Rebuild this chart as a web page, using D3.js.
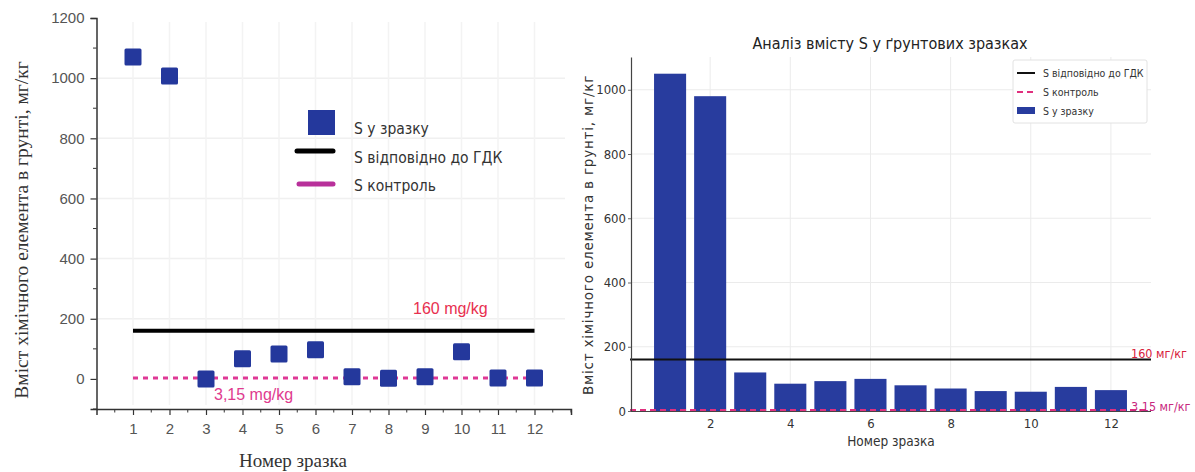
<!DOCTYPE html>
<html><head><meta charset="utf-8">
<script src="https://cdn.jsdelivr.net/npm/d3@7"></script>
<style>body{margin:0;background:#fff}svg{display:block}</style>
</head><body>
<svg id="c" width="1195" height="472"></svg>
<script>
// ---- data ----
const samples = [1,2,3,4,5,6,7,8,9,10,11,12];
const scatterValues = [1070,1007,0,67,83,97,7,2,7,90,3,3];
const barValues = [1050,980,120,85,93,100,80,70,62,60,75,65];
const gdkValue = 160;
const controlValue = 3.15;
const leftYTicks = [0,200,400,600,800,1000,1200];
const leftYMinor = [-100,100,300,500,700,900,1100];
const leftXTicks = [1,2,3,4,5,6,7,8,9,10,11,12];
const leftXMinor = [0.5,1.5,2.5,3.5,4.5,5.5,6.5,7.5,8.5,9.5,10.5,11.5,12.5,13];
const rightYTicks = [0,200,400,600,800,1000];
const rightXTicks = [2,4,6,8,10,12];
const yLabel = "Вміст хімічного елемента в грунті, мг/кг";
const xLabel = "Номер зразка";
const title = "Аналіз вмісту S у ґрунтових зразках";
const legendLeft = ["S у зразку","S відповідно до ГДК","S контроль"];
const legendRight = ["S відповідно до ГДК","S контроль","S у зразку"];

const svg = d3.select("#c");
const BLUE = "#24389c";
const PINK = "#df3896";
const COND = "'DejaVu Sans Condensed','DejaVu Sans',sans-serif";
const fmt = d3.format("d");

// ================= LEFT PANEL =================
const L = svg.append("g");
const xL = d3.scaleLinear().domain([0,13]).range([96.5,571]);
const yL = d3.scaleLinear().domain([-100,1200]).range([409,18]);

// grid
L.append("g").selectAll("line").data(leftYTicks.filter(d=>d>0&&d<1200)).join("line")
  .attr("x1",97).attr("x2",565).attr("y1",d=>yL(d)).attr("y2",d=>yL(d))
  .attr("stroke","#f0f0f0").attr("stroke-width",1.5);
L.append("g").selectAll("line").data(leftXTicks).join("line")
  .attr("x1",d=>xL(d)).attr("x2",d=>xL(d)).attr("y1",22).attr("y2",405)
  .attr("stroke","#f3f3f3").attr("stroke-width",1.5);

// axes
const axL = L.append("g").attr("transform",`translate(${xL(0)},0)`)
  .call(d3.axisLeft(yL).tickValues(leftYTicks).tickFormat(fmt).tickSize(6).tickPadding(6));
axL.append("g").selectAll("line").data(leftYMinor).join("line")
  .attr("x1",0).attr("x2",-3.5).attr("y1",d=>yL(d)).attr("y2",d=>yL(d)).attr("stroke","#333");
const axB = L.append("g").attr("transform",`translate(0,${yL(-100)})`)
  .call(d3.axisBottom(xL).tickValues(leftXTicks).tickFormat(fmt).tickSize(6).tickPadding(8));
axB.append("g").selectAll("line").data(leftXMinor).join("line")
  .attr("x1",d=>xL(d)).attr("x2",d=>xL(d)).attr("y1",0).attr("y2",3.5).attr("stroke","#333");
[axL,axB].forEach(a=>{
  a.select(".domain").attr("stroke","#333").attr("stroke-width",1.5);
  a.selectAll(".tick line").attr("stroke","#333").attr("stroke-width",1.2);
  a.selectAll("text").attr("font-family","'Liberation Sans',Arial,sans-serif").attr("font-size",15).attr("fill","#555");
});

// reference lines
L.append("line").attr("x1",xL(1)).attr("x2",xL(12)).attr("y1",yL(gdkValue)).attr("y2",yL(gdkValue))
  .attr("stroke","#000").attr("stroke-width",4);
L.append("line").attr("x1",xL(1)).attr("x2",xL(12)).attr("y1",yL(controlValue)).attr("y2",yL(controlValue))
  .attr("stroke",PINK).attr("stroke-width",3).attr("stroke-dasharray","5,5");

// markers
L.append("g").selectAll("rect").data(samples).join("rect")
  .attr("x",(d)=>xL(d)-8.5).attr("y",(d,i)=>yL(scatterValues[i])-8.5)
  .attr("width",17).attr("height",17).attr("rx",1.5).attr("fill",BLUE);

// annotations
L.append("text").attr("x",413).attr("y",314).text("160 mg/kg")
  .attr("font-family","'Liberation Sans',Arial,sans-serif").attr("font-size",16).attr("fill","#e8304f");
L.append("text").attr("x",214).attr("y",400).text("3,15 mg/kg")
  .attr("font-family","'Liberation Sans',Arial,sans-serif").attr("font-size",16).attr("fill","#e03a8e");

// labels
L.append("text").attr("transform","translate(28,230) rotate(-90)").attr("text-anchor","middle")
  .attr("font-family","'Liberation Serif','DejaVu Serif',serif").attr("font-size",19.5).attr("fill","#333").text(yLabel);
L.append("text").attr("x",293).attr("y",467).attr("text-anchor","middle")
  .attr("font-family","'Liberation Serif','DejaVu Serif',serif").attr("font-size",19).attr("fill","#333").text(xLabel);

// legend
const lg = L.append("g");
lg.append("rect").attr("x",308).attr("y",110).attr("width",27).attr("height",25).attr("fill",BLUE);
lg.append("line").attr("x1",297).attr("x2",333).attr("y1",151).attr("y2",151).attr("stroke","#000").attr("stroke-width",5).attr("stroke-linecap","round");
lg.append("line").attr("x1",299).attr("x2",333).attr("y1",184).attr("y2",184).attr("stroke","#b8309a").attr("stroke-width",5).attr("stroke-linecap","round");
lg.selectAll("text").data(legendLeft).join("text")
  .attr("x",354).attr("y",(d,i)=>[134,163,191][i]).text(d=>d)
  .attr("font-family",COND).attr("font-size",15.5).attr("fill","#333");

// ================= RIGHT PANEL =================
const R = svg.append("g");
const xR = d3.scaleLinear().domain([0,13]).range([630,1151]);
const yR = d3.scaleLinear().domain([0,1102]).range([411,57]);

R.append("g").selectAll("line").data(rightYTicks.filter(d=>d>0)).join("line")
  .attr("x1",631).attr("x2",1151).attr("y1",d=>yR(d)).attr("y2",d=>yR(d))
  .attr("stroke","#ebebeb").attr("stroke-width",1);
R.append("g").selectAll("line").data(rightXTicks).join("line")
  .attr("x1",d=>xR(d)).attr("x2",d=>xR(d)).attr("y1",57).attr("y2",411)
  .attr("stroke","#ebebeb").attr("stroke-width",1);

// bars
R.append("g").selectAll("rect").data(samples).join("rect")
  .attr("x",d=>xR(d-0.4)).attr("width",xR(0.8)-xR(0))
  .attr("y",(d,i)=>yR(barValues[i])).attr("height",(d,i)=>yR(0)-yR(barValues[i]))
  .attr("fill","#283c9e");

// ref lines
R.append("line").attr("x1",xR(0)).attr("x2",xR(13)).attr("y1",yR(gdkValue)).attr("y2",yR(gdkValue))
  .attr("stroke","#111").attr("stroke-width",2);
R.append("line").attr("x1",xR(0)).attr("x2",xR(13)).attr("y1",yR(controlValue)).attr("y2",yR(controlValue))
  .attr("stroke","#e0307e").attr("stroke-width",2).attr("stroke-dasharray","6,4");

// axes
const ayR = R.append("g").attr("transform","translate(631,0)")
  .call(d3.axisLeft(yR).tickValues(rightYTicks).tickFormat(fmt).tickSizeInner(3).tickSizeOuter(0).tickPadding(2));
const axR = R.append("g").attr("transform",`translate(0,${yR(0)})`)
  .call(d3.axisBottom(xR).tickValues(rightXTicks).tickFormat(fmt).tickSize(0).tickPadding(8));
axR.select(".domain").attr("d","M631,0.5H1151");
[ayR,axR].forEach(a=>{
  a.select(".domain").attr("stroke","#444").attr("stroke-width",1.2);
  a.selectAll(".tick line").attr("stroke","#666");
  a.selectAll("text").attr("font-family",COND).attr("font-size",13).attr("fill","#333");
});

R.append("text").attr("x",1131).attr("y",358).text("160 мг/кг")
  .attr("font-family",COND).attr("font-size",12.5).attr("fill","#d8203c");
R.append("text").attr("x",1131).attr("y",411).text("3,15 мг/кг")
  .attr("font-family",COND).attr("font-size",12.5).attr("fill","#c8287e");

R.append("text").attr("x",890).attr("y",49).attr("text-anchor","middle").text(title)
  .attr("font-family",COND).attr("font-size",16).attr("fill","#222");
R.append("text").attr("transform","translate(593,235) rotate(-90)").attr("text-anchor","middle").text(yLabel)
  .attr("font-family","'DejaVu Sans',sans-serif").attr("font-size",13.5).attr("fill","#333").attr("letter-spacing",0.8);
R.append("text").attr("x",891).attr("y",446).attr("text-anchor","middle").text(xLabel)
  .attr("font-family",COND).attr("font-size",13.5).attr("fill","#333");

// legend
const lr = R.append("g");
lr.append("rect").attr("x",1013).attr("y",60).attr("width",134).attr("height",63).attr("rx",2)
  .attr("fill","#fff").attr("stroke","#e2e2e2");
lr.append("line").attr("x1",1017).attr("x2",1035).attr("y1",73).attr("y2",73).attr("stroke","#111").attr("stroke-width",2);
lr.append("line").attr("x1",1017).attr("x2",1035).attr("y1",92).attr("y2",92).attr("stroke","#e0307e").attr("stroke-width",2).attr("stroke-dasharray","6,4");
lr.append("rect").attr("x",1017).attr("y",107).attr("width",18).attr("height",7).attr("fill","#283c9e");
lr.selectAll("text").data(legendRight).join("text")
  .attr("x",1043).attr("y",(d,i)=>[77,96,115][i]).text(d=>d)
  .attr("font-family",COND).attr("font-size",10.5).attr("fill","#333");
</script>
</body></html>
